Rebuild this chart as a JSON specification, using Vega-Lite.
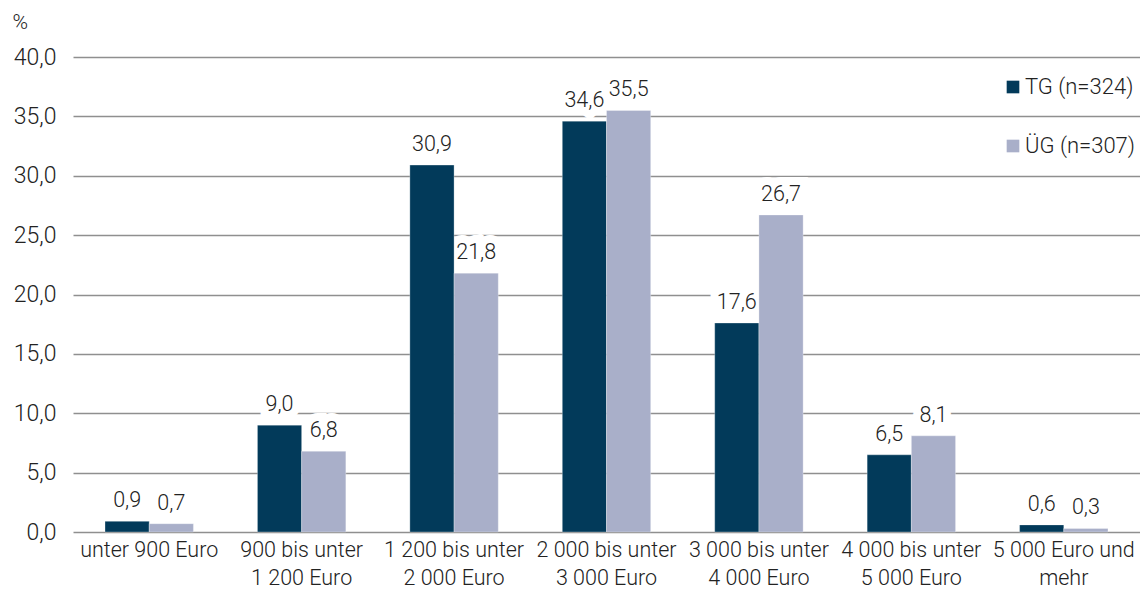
{
  "$schema": "https://vega.github.io/schema/vega-lite/v6.json",
  "width": 1067,
  "height": 475,
  "autosize": {"type": "none"},
  "padding": {"left": 73, "top": 57, "right": 0, "bottom": 65},
  "background": "white",
  "config": {
    "locale": {"number": {"decimal": ",", "thousands": " ", "grouping": [3], "currency": ["", " €"]}},
    "font": "Roboto",
    "view": {"stroke": null},
    "axis": {"labelFont": "Roboto", "labelFontWeight": 300, "titleFont": "Roboto", "titleFontWeight": 300},
    "legend": {"labelFont": "Roboto", "labelFontWeight": 300}
  },
  "data": {
    "values": [
      {"cat": "unter 900 Euro", "group": "TG (n=324)", "value": 0.9},
      {"cat": "unter 900 Euro", "group": "ÜG (n=307)", "value": 0.7},
      {"cat": "900 bis unter|1 200 Euro", "group": "TG (n=324)", "value": 9.0},
      {"cat": "900 bis unter|1 200 Euro", "group": "ÜG (n=307)", "value": 6.8},
      {"cat": "1 200 bis unter|2 000 Euro", "group": "TG (n=324)", "value": 30.9},
      {"cat": "1 200 bis unter|2 000 Euro", "group": "ÜG (n=307)", "value": 21.8},
      {"cat": "2 000 bis unter|3 000 Euro", "group": "TG (n=324)", "value": 34.6},
      {"cat": "2 000 bis unter|3 000 Euro", "group": "ÜG (n=307)", "value": 35.5},
      {"cat": "3 000 bis unter|4 000 Euro", "group": "TG (n=324)", "value": 17.6},
      {"cat": "3 000 bis unter|4 000 Euro", "group": "ÜG (n=307)", "value": 26.7},
      {"cat": "4 000 bis unter|5 000 Euro", "group": "TG (n=324)", "value": 6.5},
      {"cat": "4 000 bis unter|5 000 Euro", "group": "ÜG (n=307)", "value": 8.1},
      {"cat": "5 000 Euro und|mehr", "group": "TG (n=324)", "value": 0.6},
      {"cat": "5 000 Euro und|mehr", "group": "ÜG (n=307)", "value": 0.3}
    ]
  },
  "encoding": {
    "x": {
      "field": "cat",
      "type": "nominal",
      "sort": null,
      "scale": {"paddingInner": 0.42, "paddingOuter": 0.21},
      "axis": {
        "title": null,
        "labelAngle": 0,
        "labelExpr": "split(datum.label, '|')",
        "labelFontSize": 21.5,
        "labelColor": "#222222",
        "labelLineHeight": 28,
        "labelPadding": 7,
        "labelBaseline": "top",
        "ticks": false,
        "domain": false
      }
    },
    "xOffset": {"field": "group", "type": "nominal", "scale": {"paddingInner": 0, "paddingOuter": 0}},
    "y": {
      "field": "value",
      "type": "quantitative",
      "scale": {"domain": [0, 40], "nice": false},
      "axis": {
        "title": "%",
        "titleAngle": 0,
        "titleAlign": "left",
        "titleBaseline": "middle",
        "titleX": -61,
        "titleY": -35,
        "titleFontSize": 21,
        "titleColor": "#222222",
        "values": [0, 5, 10, 15, 20, 25, 30, 35, 40],
        "format": ".1f",
        "labelFontSize": 23,
        "labelColor": "#222222",
        "labelPadding": 17,
        "ticks": false,
        "domain": false,
        "grid": true,
        "gridColor": "#8f8f8f",
        "gridWidth": 1.6
      }
    }
  },
  "layer": [
    {
      "mark": {"type": "text", "baseline": "alphabetic", "dy": -14, "fontSize": 21.5, "fontWeight": 300, "stroke": "white", "strokeWidth": 16, "strokeJoin": "miter", "fill": "white"},
      "encoding": {"text": {"field": "value", "type": "quantitative", "format": ".1f"}}
    },
    {
      "mark": {"type": "bar", "stroke": "white", "strokeWidth": 0.5, "strokeOpacity": 0.6},
      "encoding": {
        "color": {
          "field": "group",
          "type": "nominal",
          "scale": {"range": ["#023a5a", "#a9afc9"]},
          "legend": {
            "title": null,
            "orient": "none",
            "legendX": 929,
            "legendY": 19,
            "padding": 0,
            "symbolType": "square",
            "symbolSize": 160,
            "symbolStrokeWidth": 0,
            "labelFontSize": 22,
            "labelColor": "#222222",
            "labelOffset": 1,
            "rowPadding": 37
          }
        }
      }
    },
    {
      "mark": {"type": "text", "baseline": "alphabetic", "dy": -14, "fontSize": 21.5, "fontWeight": 300, "fill": "#222222"},
      "encoding": {"text": {"field": "value", "type": "quantitative", "format": ".1f"}}
    }
  ]
}
